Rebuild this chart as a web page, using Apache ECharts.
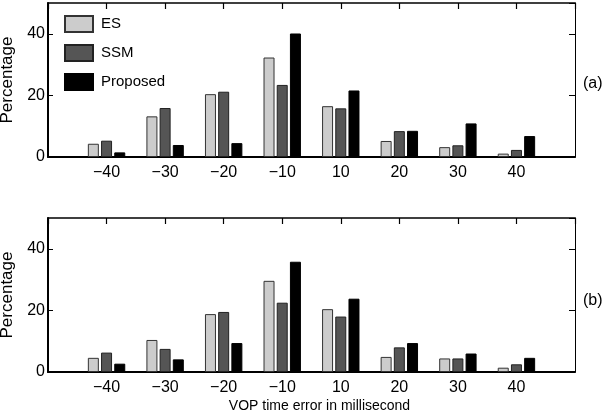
<!DOCTYPE html>
<html>
<head>
<meta charset="utf-8">
<script src="https://cdn.jsdelivr.net/npm/echarts@6/dist/echarts.min.js"></script>
<style>
  html, body { margin: 0; padding: 0; background: #fff; }
  #chart { width: 613px; height: 419px; }
</style>
</head>
<body>
<div id="chart"></div>
<script>
// 误差类别（毫秒）
const categories = ['−40', '−30', '−20', '−10', '10', '20', '30', '40'];
const seriesNames = ['ES', 'SSM', 'Proposed'];

// (a) 上图
const esA = [4.3, 13.2, 20.4, 32.3, 16.5, 5.2, 3.2, 1.1];
const ssmA = [5.3, 15.9, 21.2, 23.4, 15.8, 8.4, 3.8, 2.3];
const propA = [1.5, 3.9, 4.5, 40.1, 21.6, 8.5, 10.9, 6.8];

// (b) 下图
const esB = [4.6, 10.4, 18.8, 29.6, 20.4, 4.9, 4.4, 1.4];
const ssmB = [6.3, 7.5, 19.5, 22.5, 18.0, 8.0, 4.4, 2.5];
const propB = [2.7, 4.1, 9.4, 35.8, 23.8, 9.4, 6.0, 4.6];

const yMax = 50;
const yInterval = 20;

const FONT = '"Liberation Sans", Arial, sans-serif';

// 两端各留一个空位，刻度落在 1..8
const paddedCats = [''].concat(categories, ['']);
const pad = arr => [null].concat(arr, [null]);

const barStyles = [
  { color: '#cccccc', borderColor: '#333333', borderWidth: 1 },
  { color: '#555555', borderColor: '#222222', borderWidth: 1 },
  { color: '#000000', borderColor: '#000000', borderWidth: 1 }
];

function makeAxes(gridIndex, showName) {
  const xBottom = {
    type: 'category',
    gridIndex: gridIndex,
    data: paddedCats,
    boundaryGap: false,
    axisLine: { onZero: false, lineStyle: { color: '#000', width: 2 } },
    axisTick: { show: false },
    axisLabel: { interval: 0, color: '#000', fontSize: 16, fontFamily: FONT, margin: 8 },
    name: showName ? 'VOP time error in millisecond' : '',
    nameLocation: 'middle',
    nameGap: 27,
    nameTextStyle: { color: '#000', fontSize: 14, fontFamily: FONT, padding: [0, 0, 0, 16] }
  };
  // 顶部框线 + 朝内刻度（标签透明，放在图内以免挤压网格）
  const xTop = {
    type: 'category',
    gridIndex: gridIndex,
    position: 'top',
    data: paddedCats,
    boundaryGap: false,
    axisLine: { show: true, onZero: false, lineStyle: { color: '#000', width: 1.5 } },
    axisTick: { show: true, inside: true, length: 6, interval: 0, lineStyle: { color: '#000', width: 1.2 } },
    axisLabel: { show: true, inside: true, interval: 0, color: 'rgba(0,0,0,0)', fontSize: 8 }
  };
  const yLeft = {
    type: 'value',
    gridIndex: gridIndex,
    min: 0,
    max: yMax,
    interval: yInterval,
    axisLine: { show: true, onZero: false, lineStyle: { color: '#000', width: 2 } },
    axisTick: { show: true, inside: true, length: 5, lineStyle: { color: '#000' } },
    axisLabel: { color: '#000', fontSize: 16, fontFamily: FONT, margin: 3, showMaxLabel: false },
    splitLine: { show: false },
    name: 'Percentage',
    nameLocation: 'middle',
    nameGap: 15,
    nameTextStyle: { color: '#000', fontSize: 17, fontFamily: FONT }
  };
  const yRight = {
    type: 'value',
    gridIndex: gridIndex,
    position: 'right',
    min: 0,
    max: yMax,
    interval: yInterval,
    axisLine: { show: true, onZero: false, lineStyle: { color: '#000', width: 1 } },
    axisTick: { show: true, inside: true, length: 6, lineStyle: { color: '#000' } },
    axisLabel: { show: false },
    splitLine: { show: false }
  };
  return { xBottom, xTop, yLeft, yRight };
}

const a0 = makeAxes(0, false);
const a1 = makeAxes(1, true);

function bars(dataSets, xi, yi) {
  return dataSets.map((d, i) => ({
    name: seriesNames[i],
    type: 'bar',
    xAxisIndex: xi,
    yAxisIndex: yi,
    data: pad(d),
    barWidth: 11,
    barGap: '20%',
    itemStyle: barStyles[i],
    animation: false
  }));
}

const chart = echarts.init(document.getElementById('chart'), null, { renderer: 'canvas' });

chart.setOption({
  backgroundColor: '#fff',
  animation: false,
  title: [
    { text: '(a)', left: 578, top: 71, textStyle: { fontSize: 16, fontWeight: 'normal', color: '#000', fontFamily: FONT } },
    { text: '(b)', left: 578, top: 288, textStyle: { fontSize: 16, fontWeight: 'normal', color: '#000', fontFamily: FONT } }
  ],
  legend: {
    data: seriesNames,
    orient: 'vertical',
    left: 59,
    top: 10,
    itemWidth: 28,
    itemHeight: 16,
    itemGap: 11,
    icon: 'rect',
    textStyle: { color: '#000', fontSize: 15, fontFamily: FONT, padding: [0, 0, 0, 3] }
  },
  grid: [
    { left: 48, right: 38, top: 3, height: 154, outerBoundsMode: 'none' },
    { left: 48, right: 38, top: 218, height: 154, outerBoundsMode: 'none' }
  ],
  xAxis: [a0.xBottom, a0.xTop, a1.xBottom, a1.xTop],
  yAxis: [a0.yLeft, a0.yRight, a1.yLeft, a1.yRight],
  series: bars([esA, ssmA, propA], 0, 0).concat(bars([esB, ssmB, propB], 2, 2))
});
</script>
</body>
</html>
